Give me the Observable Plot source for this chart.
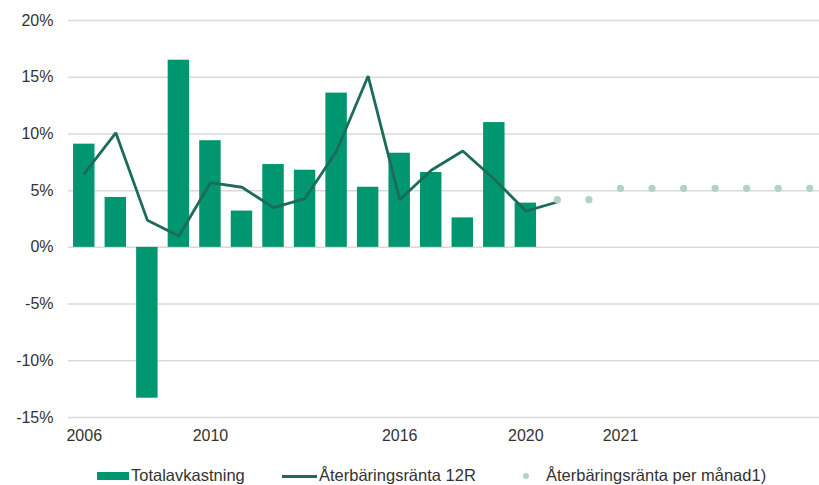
<!DOCTYPE html>
<html>
<head>
<meta charset="utf-8">
<script src="https://cdn.jsdelivr.net/npm/d3@7"></script>
<script src="https://cdn.jsdelivr.net/npm/@observablehq/plot@0.6"></script>
<style>
  html, body { margin: 0; padding: 0; background: #fff; }
  body { font-family: "Liberation Sans", Arial, sans-serif; color: #333; position: relative; width: 819px; height: 485px; overflow: hidden; }
  #chart { position: absolute; left: 0; top: 0; }
  .lg { position: absolute; top: 466px; height: 18px; line-height: 18px; font-size: 16.5px; color: #333; white-space: nowrap; }
  .sw { position: absolute; }
</style>
</head>
<body>
<div id="chart"></div>
<div id="legend"></div>
<script>
// Categories (yearly, then monthly slots)
const categories = ["2006","2007","2008","2009","2010","2011","2012","2013","2014","2015","2016","2017","2018","2019","2020",
  "2020-11","2020-12","2021-01","2021-02","2021-03","2021-04","2021-05","2021-06","2021-07"];
// Tick labels shown on the x axis
const tickLabels = {"2006":"2006","2010":"2010","2016":"2016","2020":"2020","2021-01":"2021"};
// Totalavkastning (bars), %
const totalYears = ["2006","2007","2008","2009","2010","2011","2012","2013","2014","2015","2016","2017","2018","2019","2020"];
const totalValues = [9.1, 4.4, -13.3, 16.5, 9.4, 3.2, 7.3, 6.8, 13.6, 5.3, 8.3, 6.6, 2.6, 11.0, 3.9];
// Återbäringsränta 12R (line), %
const rate12Cats = ["2006","2007","2008","2009","2010","2011","2012","2013","2014","2015","2016","2017","2018","2019","2020","2020-11"];
const rate12Values = [6.5, 10.1, 2.4, 1.0, 5.7, 5.3, 3.5, 4.3, 8.5, 15.1, 4.2, 6.8, 8.5, 6.0, 3.2, 4.0];
// Återbäringsränta per månad (dots), %
const monthlyCats = ["2020-11","2020-12","2021-01","2021-02","2021-03","2021-04","2021-05","2021-06","2021-07"];
const monthlyValues = [4.2, 4.2, 5.2, 5.2, 5.2, 5.2, 5.2, 5.2, 5.2];
const yTicks = [-15, -10, -5, 0, 5, 10, 15, 20];

const barColor = "#00966f";
const lineColor = "#1c6b5c";
const dotColor = "#b2d3c4";

const bars = totalYears.map((c, i) => ({cat: c, v: totalValues[i]}));
const line = rate12Cats.map((c, i) => ({cat: c, v: rate12Values[i]}));
const dots = monthlyCats.map((c, i) => ({cat: c, v: monthlyValues[i]}));

const W = 819, H = 450;
const chart = Plot.plot({
  width: W,
  height: H,
  marginLeft: 68,
  marginRight: 0,
  marginTop: 20,
  marginBottom: 33,
  style: {fontFamily: "'Liberation Sans', Arial, sans-serif", fontSize: "16px", color: "#333", background: "#fff"},
  x: {type: "band", domain: categories, range: [68, 825], paddingInner: 0.32, paddingOuter: 0.16, round: false, label: null},
  y: {domain: [-15, 20], label: null},
  marks: [
    Plot.ruleY(yTicks, {stroke: "#d9d9d9", strokeWidth: 1.5}),
    Plot.barY(bars, {x: "cat", y: "v", fill: barColor}),
    Plot.line(line, {x: "cat", y: "v", stroke: lineColor, strokeWidth: 2.8, strokeLinejoin: "miter"}),
    Plot.dot(dots, {x: "cat", y: "v", r: 3.6, fill: dotColor, stroke: null}),
    Plot.axisY({ticks: yTicks, tickSize: 0, tickPadding: 15, tickFormat: d => d + "%", fontSize: 16, fill: "#333"}),
    Plot.axisX({ticks: Object.keys(tickLabels), tickSize: 0, tickPadding: 12, tickFormat: d => tickLabels[d] || "", fontSize: 16, fill: "#333"})
  ]
});
document.getElementById("chart").appendChild(chart);

// Legend (HTML)
const legend = document.getElementById("legend");
const items = [
  {label: "Totalavkastning", type: "bar", sx: 97, tx: 131},
  {label: "Återbäringsränta 12R", type: "line", sx: 282, tx: 319},
  {label: "Återbäringsränta per månad1)", type: "dot", sx: 526, tx: 546}
];
items.forEach(it => {
  const sw = document.createElement("div");
  sw.className = "sw";
  if (it.type === "bar") {
    Object.assign(sw.style, {left: it.sx + "px", top: "472px", width: "32px", height: "8px", background: barColor});
  } else if (it.type === "line") {
    Object.assign(sw.style, {left: it.sx + "px", top: "474.5px", width: "35px", height: "3px", background: lineColor});
  } else {
    Object.assign(sw.style, {left: (it.sx - 3) + "px", top: "473px", width: "6px", height: "6px", borderRadius: "50%", background: dotColor});
  }
  legend.appendChild(sw);
  const t = document.createElement("div");
  t.className = "lg";
  t.style.left = it.tx + "px";
  t.textContent = it.label;
  legend.appendChild(t);
});
</script>
</body>
</html>
